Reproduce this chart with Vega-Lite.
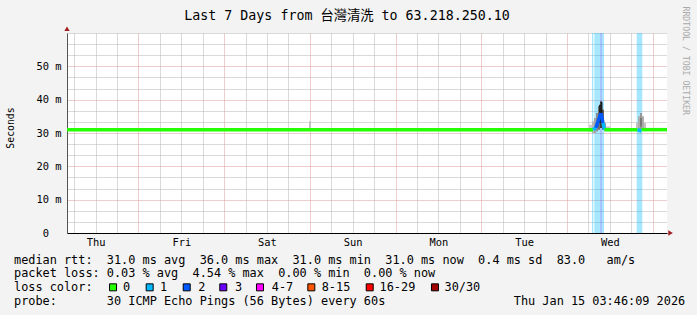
{
  "$schema": "https://vega.github.io/schema/vega-lite/v6.json",
  "width": 600,
  "height": 200,
  "autosize": {"type": "none"},
  "padding": {"left": 67, "top": 33, "right": 30, "bottom": 82},
  "background": "#f3f3f3",
  "title": {
    "text": "Last 7 Days from 台灣清洗 to 63.218.250.10",
    "font": "DejaVu Sans Mono, Noto Sans CJK TC",
    "fontSize": 13.3,
    "fontWeight": "normal",
    "color": "#000000",
    "anchor": "middle",
    "frame": "group",
    "dx": -20,
    "dy": 37.6,
    "offset": 10,
    "baseline": "alphabetic"
  },
  "config": {
    "view": {"fill": "#ffffff", "stroke": null},
    "axis": {"labelFont": "DejaVu Sans Mono", "titleFont": "DejaVu Sans Mono", "labelColor": "#000000", "titleColor": "#000000", "titleFontWeight": "normal"}
  },
  "datasets": {
    "bands": [
      {"t0": "2026-01-14T07:00:00Z", "t1": "2026-01-14T07:22:00Z", "loss": "1"},
      {"t0": "2026-01-14T07:39:00Z", "t1": "2026-01-14T09:14:00Z", "loss": "1"},
      {"t0": "2026-01-14T09:14:00Z", "t1": "2026-01-14T09:53:00Z", "loss": "2"},
      {"t0": "2026-01-14T09:53:00Z", "t1": "2026-01-14T10:22:00Z", "loss": "1"},
      {"t0": "2026-01-14T19:31:00Z", "t1": "2026-01-14T21:05:00Z", "loss": "1"}
    ],
    "smoke": [
      {"t0": "2026-01-10T23:46:00Z", "t1": "2026-01-11T00:19:00Z", "lo": 31.0, "hi": 33.5, "density": 0.15},
      {"t0": "2026-01-14T06:10:00Z", "t1": "2026-01-14T07:00:00Z", "lo": 30.3, "hi": 32.5, "density": 0.1},
      {"t0": "2026-01-14T07:00:00Z", "t1": "2026-01-14T07:34:00Z", "lo": 30.0, "hi": 33.5, "density": 0.2},
      {"t0": "2026-01-14T07:34:00Z", "t1": "2026-01-14T08:07:00Z", "lo": 30.0, "hi": 34.5, "density": 0.3},
      {"t0": "2026-01-14T08:07:00Z", "t1": "2026-01-14T08:41:00Z", "lo": 30.5, "hi": 36.0, "density": 0.4},
      {"t0": "2026-01-14T08:41:00Z", "t1": "2026-01-14T09:14:00Z", "lo": 31.0, "hi": 38.0, "density": 0.55},
      {"t0": "2026-01-14T09:14:00Z", "t1": "2026-01-14T09:48:00Z", "lo": 31.5, "hi": 39.5, "density": 0.8},
      {"t0": "2026-01-14T09:48:00Z", "t1": "2026-01-14T10:22:00Z", "lo": 31.0, "hi": 37.0, "density": 0.6},
      {"t0": "2026-01-14T10:22:00Z", "t1": "2026-01-14T10:55:00Z", "lo": 30.5, "hi": 33.0, "density": 0.3},
      {"t0": "2026-01-14T10:55:00Z", "t1": "2026-01-14T12:02:00Z", "lo": 30.5, "hi": 32.0, "density": 0.1},
      {"t0": "2026-01-14T08:58:00Z", "t1": "2026-01-14T09:31:00Z", "lo": 33.0, "hi": 38.5, "density": 0.95},
      {"t0": "2026-01-14T09:31:00Z", "t1": "2026-01-14T09:56:00Z", "lo": 34.0, "hi": 39.3, "density": 1.0},
      {"t0": "2026-01-14T19:19:00Z", "t1": "2026-01-14T19:53:00Z", "lo": 30.5, "hi": 33.0, "density": 0.15},
      {"t0": "2026-01-14T19:53:00Z", "t1": "2026-01-14T20:26:00Z", "lo": 30.5, "hi": 35.0, "density": 0.25},
      {"t0": "2026-01-14T20:26:00Z", "t1": "2026-01-14T21:00:00Z", "lo": 31.0, "hi": 36.0, "density": 0.35},
      {"t0": "2026-01-14T21:00:00Z", "t1": "2026-01-14T21:34:00Z", "lo": 31.0, "hi": 35.0, "density": 0.25},
      {"t0": "2026-01-14T21:34:00Z", "t1": "2026-01-14T22:07:00Z", "lo": 30.5, "hi": 33.0, "density": 0.15},
      {"t0": "2026-01-14T20:26:00Z", "t1": "2026-01-14T21:00:00Z", "lo": 32.0, "hi": 34.5, "density": 0.5}
    ],
    "median": [
      {"t0": "2026-01-08T04:00:00Z", "m0": 31.0, "t1": "2026-01-14T07:17:00Z", "m1": 31.0, "loss": "0"},
      {"t0": "2026-01-14T07:17:00Z", "m0": 31.0, "t1": "2026-01-14T08:07:00Z", "m1": 31.6, "loss": "1"},
      {"t0": "2026-01-14T08:07:00Z", "m0": 31.6, "t1": "2026-01-14T08:41:00Z", "m1": 33.5, "loss": "2"},
      {"t0": "2026-01-14T08:41:00Z", "m0": 33.5, "t1": "2026-01-14T09:31:00Z", "m1": 36.0, "loss": "2"},
      {"t0": "2026-01-14T09:31:00Z", "m0": 36.0, "t1": "2026-01-14T10:05:00Z", "m1": 33.0, "loss": "2"},
      {"t0": "2026-01-14T10:05:00Z", "m0": 33.0, "t1": "2026-01-14T10:30:00Z", "m1": 31.0, "loss": "1"},
      {"t0": "2026-01-14T10:30:00Z", "m0": 31.0, "t1": "2026-01-14T19:44:00Z", "m1": 31.0, "loss": "0"},
      {"t0": "2026-01-14T19:44:00Z", "m0": 31.0, "t1": "2026-01-14T20:52:00Z", "m1": 30.6, "loss": "1"},
      {"t0": "2026-01-14T20:52:00Z", "m0": 31.0, "t1": "2026-01-15T04:00:00Z", "m1": 31.0, "loss": "0"}
    ],
    "legend": [
      {"line": 0, "col": 0, "text": "median rtt:"},
      {"line": 0, "col": 13, "text": "31.0 ms avg"},
      {"line": 0, "col": 26, "text": "36.0 ms max"},
      {"line": 0, "col": 39, "text": "31.0 ms min"},
      {"line": 0, "col": 52, "text": "31.0 ms now"},
      {"line": 0, "col": 65, "text": "0.4 ms sd"},
      {"line": 0, "col": 76, "text": "83.0"},
      {"line": 0, "col": 83, "text": "am/s"},
      {"line": 1, "col": 0, "text": "packet loss:"},
      {"line": 1, "col": 13, "text": "0.03 % avg"},
      {"line": 1, "col": 25, "text": "4.54 % max"},
      {"line": 1, "col": 37, "text": "0.00 % min"},
      {"line": 1, "col": 49, "text": "0.00 % now"},
      {"line": 2, "col": 0, "text": "loss color:"},
      {"line": 2, "col": 15.27, "text": "0"},
      {"line": 2, "col": 20.45, "text": "1"},
      {"line": 2, "col": 25.8, "text": "2"},
      {"line": 2, "col": 30.95, "text": "3"},
      {"line": 2, "col": 36.1, "text": "4-7"},
      {"line": 2, "col": 43.1, "text": "8-15"},
      {"line": 2, "col": 51.2, "text": "16-29"},
      {"line": 2, "col": 60.3, "text": "30/30"},
      {"line": 3, "col": 0, "text": "probe:"},
      {"line": 3, "col": 13, "text": "30 ICMP Echo Pings (56 Bytes) every 60s"},
      {"line": 3, "col": 70, "text": "Thu Jan 15 03:46:09 2026"}
    ],
    "swatches": [
      {"line": 2, "col": 13.87, "loss": "0"},
      {"line": 2, "col": 19.0, "loss": "1"},
      {"line": 2, "col": 24.19, "loss": "2"},
      {"line": 2, "col": 29.31, "loss": "3"},
      {"line": 2, "col": 34.45, "loss": "4-7"},
      {"line": 2, "col": 41.64, "loss": "8-15"},
      {"line": 2, "col": 49.82, "loss": "16-29"},
      {"line": 2, "col": 58.96, "loss": "30/30"}
    ]
  },
  "layer": [
    {
      "layer": [
        {
          "data": {"name": "bands"},
          "mark": {"type": "rect", "fillOpacity": 0.35},
          "encoding": {
            "x": {"field": "t0", "type": "temporal", "scale": {"type": "utc", "domain": [1767844800000, 1768449600000]},
              "axis": {"orient": "bottom", "values": [1767873600000, 1767960000000, 1768046400000, 1768132800000, 1768219200000, 1768305600000, 1768392000000], "labelExpr": "utcFormat(datum.value, '%a')", "grid": false, "ticks": false, "labelPadding": 9, "labelBaseline": "middle", "labelFontSize": 10.4, "labelAlign": "center", "labelFlush": false, "labelOverlap": false, "domain": true, "domainColor": "#000000", "domainWidth": 1, "title": null}},
            "x2": {"field": "t1"},
            "y": {"datum": 60, "type": "quantitative", "scale": {"domain": [0, 60], "nice": false},
              "axis": {"orient": "right", "grid": false, "ticks": false, "labels": false, "domain": false, "title": "RRDTOOL / TOBI OETIKER", "titleAngle": 90, "titleAlign": "left", "titleBaseline": "middle", "titleX": 17, "titleY": -27, "titleFontSize": 8.2, "titleColor": "#aaaaaa"}},
            "y2": {"datum": 0},
            "fill": {"field": "loss", "type": "nominal", "scale": {"domain": ["0", "1", "2", "3", "4-7", "8-15", "16-29", "30/30"], "range": ["#26ff00", "#00b8ff", "#0059ff", "#6a00ff", "#ff00ff", "#ff5500", "#ff0000", "#a10000"]}, "legend": null}
          }
        },
        {
          "data": {"name": "smoke"},
          "mark": {"type": "rect"},
          "encoding": {
            "x": {"field": "t0", "type": "temporal", "scale": {"type": "utc", "domain": [1767844800000, 1768449600000]},
              "axis": {"orient": "bottom", "values": [1767852000000, 1767873600000, 1767895200000, 1767938400000, 1767960000000, 1767981600000, 1768024800000, 1768046400000, 1768068000000, 1768111200000, 1768132800000, 1768154400000, 1768197600000, 1768219200000, 1768240800000, 1768284000000, 1768305600000, 1768327200000, 1768370400000, 1768392000000, 1768413600000], "grid": true, "gridColor": "#b4b4b4", "gridDash": [1, 1], "labels": false, "ticks": false, "domain": false, "title": null}},
            "x2": {"field": "t1"},
            "y": {"field": "lo", "type": "quantitative", "scale": {"domain": [0, 60], "nice": false},
              "axis": {"orient": "left", "values": [3.333, 6.667, 13.333, 16.667, 23.333, 26.667, 33.333, 36.667, 43.333, 46.667, 53.333, 56.667, 60], "grid": true, "gridColor": "#b4b4b4", "gridDash": [1, 1], "labels": false, "ticks": false, "domain": false, "title": null}},
            "y2": {"field": "hi"},
            "color": {"field": "density", "type": "quantitative", "scale": {"domain": [0, 1], "range": ["#e4e4e4", "#1a1a1a"]}, "legend": null}
          }
        },
        {
          "data": {"name": "median"},
          "mark": {"type": "rule", "strokeWidth": 3.5, "strokeCap": "butt"},
          "encoding": {
            "x": {"field": "t0", "type": "temporal", "scale": {"type": "utc", "domain": [1767844800000, 1768449600000]},
              "axis": {"orient": "bottom", "values": [1767916800000, 1768003200000, 1768089600000, 1768176000000, 1768262400000, 1768348800000, 1768435200000], "grid": true, "gridColor": "#dc9a9a", "gridDash": [1, 1], "labels": false, "ticks": false, "domain": false, "title": null}},
            "x2": {"field": "t1"},
            "y": {"field": "m0", "type": "quantitative", "scale": {"domain": [0, 60], "nice": false},
              "axis": {"orient": "left", "values": [0, 10, 20, 30, 40, 50], "grid": true, "gridColor": "#dc9a9a", "gridDash": [1, 1], "ticks": false, "labelPadding": {"condition": {"test": "datum.value == 0", "value": 18.5}, "value": 6}, "labelBaseline": "middle", "labelFontSize": 10.4, "labelExpr": "datum.value == 0 ? '0' : datum.value + ' m'", "domain": true, "domainColor": "#555555", "title": "Seconds", "titleAngle": -90, "titleX": -56.5, "titleY": 94.5, "titleAlign": "center", "titleBaseline": "middle", "titleFontSize": 9.8}},
            "y2": {"field": "m1"},
            "stroke": {"field": "loss", "type": "nominal", "scale": {"domain": ["0", "1", "2", "3", "4-7", "8-15", "16-29", "30/30"], "range": ["#26ff00", "#00b8ff", "#0059ff", "#6a00ff", "#ff00ff", "#ff5500", "#ff0000", "#a10000"]}, "legend": null}
          }
        },
        {
          "data": {"values": [{}]},
          "mark": {"type": "point", "shape": "triangle-up", "filled": true, "size": 28, "color": "#a01e1e", "opacity": 1},
          "encoding": {
            "x": {"datum": {"year": 2026, "month": 1, "date": 8, "hours": 4, "utc": true}, "type": "temporal", "scale": {"type": "utc", "domain": [1767844800000, 1768449600000]}, "axis": null},
            "y": {"datum": 61.3, "type": "quantitative", "scale": {"domain": [0, 60], "nice": false}, "axis": null}
          }
        },
        {
          "data": {"values": [{}]},
          "mark": {"type": "point", "shape": "triangle-right", "filled": true, "size": 28, "color": "#a01e1e", "opacity": 1},
          "encoding": {
            "x": {"datum": {"year": 2026, "month": 1, "date": 15, "hours": 5, "utc": true}, "type": "temporal", "scale": {"type": "utc", "domain": [1767844800000, 1768449600000]}, "axis": null},
            "y": {"datum": 0, "type": "quantitative", "scale": {"domain": [0, 60], "nice": false}, "axis": null}
          }
        }
      ],
      "resolve": {"axis": {"x": "independent", "y": "independent"}}
    },
    {
      "layer": [
        {
          "data": {"name": "legend"},
          "mark": {"type": "text", "align": "left", "baseline": "alphabetic", "font": "DejaVu Sans Mono", "fontSize": 11.86, "color": "#000000"},
          "encoding": {
            "x": {"field": "col", "type": "quantitative", "scale": {"domain": [0, 84], "range": [-53, 546.76], "nice": false, "zero": false}, "axis": null},
            "y": {"field": "line", "type": "quantitative", "scale": {"domain": [0, 3], "range": [230.5, 271.5], "nice": false, "zero": false}, "axis": null},
            "text": {"field": "text"}
          }
        },
        {
          "data": {"name": "swatches"},
          "mark": {"type": "point", "shape": "square", "filled": true, "size": 49, "stroke": "#000000", "strokeWidth": 1, "opacity": 1, "yOffset": -3.5},
          "encoding": {
            "x": {"field": "col", "type": "quantitative", "scale": {"domain": [0, 84], "range": [-53, 546.76], "nice": false, "zero": false}, "axis": null},
            "y": {"field": "line", "type": "quantitative", "scale": {"domain": [0, 3], "range": [230.5, 271.5], "nice": false, "zero": false}, "axis": null},
            "fill": {"field": "loss", "type": "nominal", "scale": {"domain": ["0", "1", "2", "3", "4-7", "8-15", "16-29", "30/30"], "range": ["#26ff00", "#00b8ff", "#0059ff", "#6a00ff", "#ff00ff", "#ff5500", "#ff0000", "#a10000"]}, "legend": null}
          }
        }
      ]
    }
  ],
  "resolve": {"scale": {"x": "independent", "y": "independent"}}
}
